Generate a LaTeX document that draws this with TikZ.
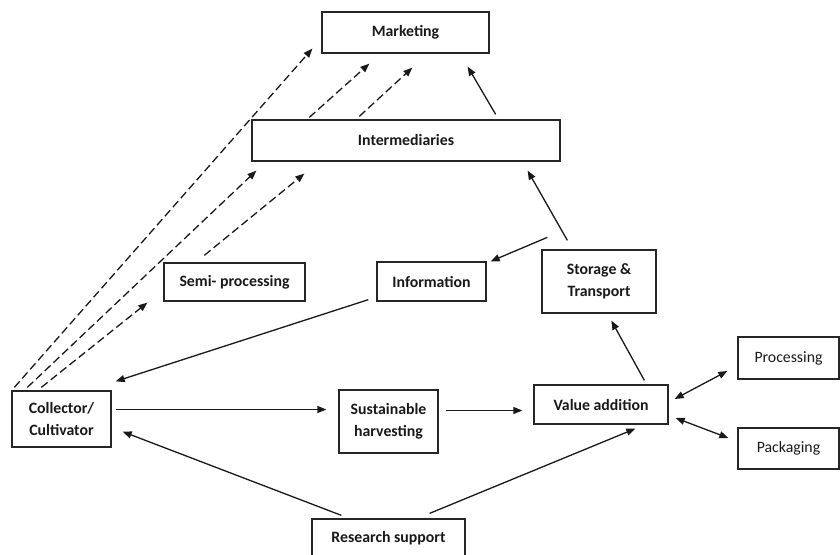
\documentclass[tikz,border=0pt]{standalone}
\usepackage{fontspec}
\setmainfont{Carlito}
\usetikzlibrary{arrows.meta,calc}
\begin{document}
\begin{tikzpicture}[x=1pt,y=-1pt,
  box/.style={draw=black!85,line width=1.3pt,rectangle,inner sep=0pt,
    align=center,font=\bfseries\fontsize{15.8}{22}\selectfont,text=black!90},
  plainbox/.style={box,font=\fontsize{15.8}{22}\selectfont},
  link/.style={line width=1.3pt,draw=black!90,-{Triangle[length=9pt,width=7pt]}},
  dlink/.style={link,dash pattern=on 8pt off 4pt},
  both/.style={line width=1.3pt,draw=black!90,{Triangle[length=9pt,width=7pt]}-{Triangle[length=9pt,width=7pt]}}]
\useasboundingbox (0,0) rectangle (840,554);
% boxes
\node[box,minimum width=167pt,minimum height=41pt] (mkt) at (405.5,32.5) {Marketing};
\node[box,minimum width=308pt,minimum height=41pt] (inter) at (406,140.5) {Intermediaries};
\node[box,minimum width=141pt,minimum height=38pt] (semi) at (234.5,282) {Semi- processing};
\node[box,minimum width=109pt,minimum height=39pt] (info) at (431.5,281.5) {Information};
\node[box,minimum width=114pt,minimum height=63pt] (stor) at (599,281.5) {Storage \&\\Transport};
\node[box,minimum width=99pt,minimum height=56pt] (coll) at (61.5,419) {Collector/\\Cultivator};
\node[box,minimum width=99pt,minimum height=63pt] (sust) at (388.5,421.5) {Sustainable\\harvesting};
\node[box,minimum width=134pt,minimum height=39pt] (val) at (601,404.5) {Value addition};
\node[plainbox,minimum width=101pt,minimum height=42pt] (proc) at (788.5,358) {Processing};
\node[plainbox,minimum width=101pt,minimum height=41pt] (pack) at (788.5,448.5) {Packaging};
\node[box,minimum width=153pt,minimum height=39pt] (res) at (388.5,538.5) {Research support};
% dashed flows towards the market
\draw[dlink] ($(coll.north west)+(3,-3)$) -- ($(mkt.south west)+(-9,-5)$);
\draw[dlink] ($(coll.north west)+(16,-3)$) -- ($(inter.south west)+(5,9)$);
\draw[dlink] ($(coll.north west)+(30,-3)$) -- ($(semi.south west)+(-16,1)$);
\draw[dlink] ($(semi.north west)+(41,-7)$) -- ($(inter.south west)+(53,12)$);
\draw[dlink] ($(inter.north west)+(58,-2)$) -- ($(mkt.south west)+(48,10)$);
\draw[dlink] ($(inter.north west)+(108,-3)$) -- ($(mkt.south west)+(91,14)$);
% solid flows
\draw[link] ($(inter.north east)+(-65,-5)$) -- ($(mkt.south east)+(-22,13)$);
\draw[link] ($(stor.north west)+(26,-9)$) -- ($(inter.south east)+(-33,9)$);
\draw[link] ($(stor.north west)+(6,-12)$) -- ($(info.north east)+(4,0)$);
\draw[link] ($(info.south west)+(-8,-2)$) -- ($(coll.north east)+(4,-9)$);
\draw[link] ($(coll.east)+(4,-9.5)$) -- ($(sust.west)+(-12,-12)$);
\draw[link] ($(res.north west)+(30,-3)$) -- ($(coll.south east)+(11,-16)$);
\draw[link] ($(res.north east)+(-36,-5)$) -- ($(val.south west)+(102,4)$);
\draw[link] ($(sust.east)+(7,-11)$) -- ($(val.west)+(-11,6)$);
\draw[link] ($(val.north west)+(111,-4)$) -- ($(stor.south west)+(70,7)$);
\draw[both] ($(val.east)+(6,-5.5)$) -- ($(proc.west)+(-10,13)$);
\draw[both] ($(val.east)+(7,13.5)$) -- ($(pack.west)+(-9,-10.5)$);
\end{tikzpicture}
\end{document}
